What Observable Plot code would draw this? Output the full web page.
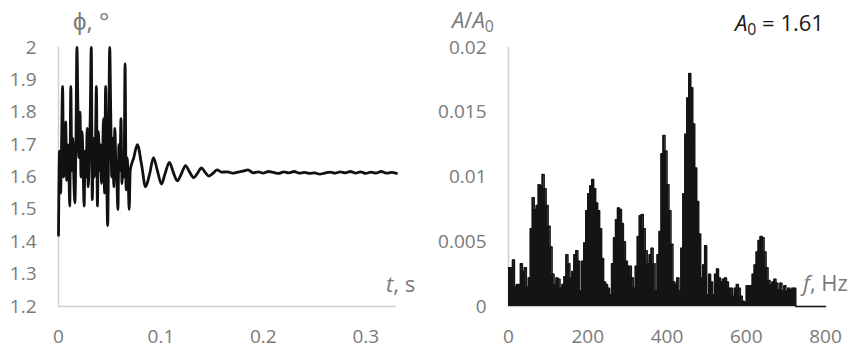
<!DOCTYPE html>
<html>
<head>
<meta charset="utf-8">
<script src="https://cdn.jsdelivr.net/npm/d3@7"></script>
<script src="https://cdn.jsdelivr.net/npm/@observablehq/plot@0.6"></script>
<style>
  body { margin: 0; background: #fff; }
  #wrap { position: relative; width: 856px; height: 348px; display: flex; font-family: "Open Sans", sans-serif; }
  #wrap > div.panel { width: 428px; height: 348px; }
  .lbl { position: absolute; font-size: 22px; line-height: 1; color: #7a7a7a; white-space: nowrap; }
  .lbl sub { font-size: 0.72em; vertical-align: -0.28em; line-height: 0; }
  .dark { color: #1a1a1a; }
</style>
</head>
<body>
<div id="wrap">
  <div class="panel" id="left"></div>
  <div class="panel" id="right"></div>
  <div class="lbl" style="left:73px; top:9px; font-size:24px;">ϕ, °</div>
  <div class="lbl" style="left:386px; top:272px;"><i>t</i>, s</div>
  <div class="lbl" style="left:452px; top:8px;"><i>A</i>/<i>A</i><sub>0</sub></div>
  <div class="lbl dark" style="left:735px; top:11px;"><i>A</i><sub>0</sub> = 1.61</div>
  <div class="lbl" style="left:803px; top:271px;"><i>f</i>, Hz</div>
</div>
<script>
// ---- Phase response φ(t), degrees ----
// Start-up transient, sampled every 1 ms from t = 0
const fastStart = 0, fastStep = 0.001;
const phiFast = [
  1.42, 1.68, 1.55, 1.70, 1.88, 1.60, 1.66, 1.77, 1.59, 1.70,
  1.64, 1.51, 1.88, 1.62, 1.72, 1.59, 1.52, 1.70, 2.00, 1.80,
  1.66, 1.80, 1.60, 1.74, 1.64, 1.51, 1.68, 1.60, 1.75, 1.57,
  1.66, 1.79, 2.00, 1.53, 1.72, 1.60, 1.68, 1.88, 1.51, 1.74,
  1.62, 1.70, 1.58, 1.66, 1.78, 1.55, 1.88, 1.62, 1.45, 1.72,
  2.00, 1.80, 1.60, 1.72, 1.57, 1.75, 1.64, 1.59, 1.50, 1.70,
  1.62, 1.78, 1.58, 1.68, 1.60, 1.95, 1.56, 1.66, 1.60, 1.50
];
// Decaying ringing after the transient
const ringT = [
  0.0700, 0.0735, 0.0770, 0.0810, 0.0850, 0.0890, 0.0927, 0.0965, 0.1005, 0.1040,
  0.1083, 0.1120, 0.1160, 0.1200, 0.1240, 0.1280, 0.1320, 0.1358, 0.1395, 0.1430,
  0.1470, 0.1510, 0.1550, 0.1590
];
const ringPhi = [
  1.62, 1.66, 1.70, 1.64, 1.57, 1.61, 1.66, 1.62, 1.578, 1.61,
  1.645, 1.615, 1.588, 1.61, 1.635, 1.615, 1.598, 1.612, 1.628, 1.615,
  1.603, 1.612, 1.622, 1.615
];
// Steady state, sampled every 5 ms from t = 0.165
const tailStart = 0.165, tailStep = 0.005;
const phiTail = [
  1.616, 1.612, 1.615, 1.618, 1.622, 1.613, 1.616, 1.612, 1.617, 1.614,
  1.611, 1.616, 1.613, 1.617, 1.612, 1.614, 1.611, 1.613, 1.609, 1.612,
  1.615, 1.612, 1.616, 1.613, 1.617, 1.612, 1.616, 1.611, 1.615, 1.612,
  1.617, 1.612, 1.614, 1.611
];
const tTicks = [0, 0.1, 0.2, 0.3];
const phiTicks = [1.2, 1.3, 1.4, 1.5, 1.6, 1.7, 1.8, 1.9, 2];

// ---- Amplitude spectrum A/A0, 5 Hz bins from 0 Hz ----
const binWidth = 5;
const ampRatio = [
  0.0030, 0.0030, 0.0036, 0.0015, 0.0017, 0.0017, 0.0033, 0.0027, 0.0030, 0.0015,
  0.0022, 0.0060, 0.0084, 0.0075, 0.0078, 0.0094, 0.0093, 0.0102, 0.0091, 0.0078,
  0.0062, 0.0046, 0.0025, 0.0017, 0.0022, 0.0021, 0.0014, 0.0017, 0.0023, 0.0040,
  0.0033, 0.0022, 0.0027, 0.0040, 0.0043, 0.0035, 0.0012, 0.0035, 0.0049, 0.0074,
  0.0087, 0.0093, 0.0098, 0.0091, 0.0080, 0.0074, 0.0060, 0.0037, 0.0019, 0.0017,
  0.0014, 0.0009, 0.0033, 0.0053, 0.0067, 0.0076, 0.0075, 0.0064, 0.0050, 0.0035,
  0.0031, 0.0031, 0.0022, 0.0014, 0.0031, 0.0054, 0.0070, 0.0071, 0.0060, 0.0043,
  0.0033, 0.0040, 0.0045, 0.0033, 0.0012, 0.0040, 0.0058, 0.0118, 0.0132, 0.0120,
  0.0094, 0.0074, 0.0048, 0.0019, 0.0017, 0.0022, 0.0012, 0.0045, 0.0087, 0.0133,
  0.0161, 0.0180, 0.0169, 0.0141, 0.0107, 0.0081, 0.0056, 0.0022, 0.0032, 0.0047,
  0.0009, 0.0025, 0.0019, 0.0009, 0.0025, 0.0029, 0.0022, 0.0019, 0.0021, 0.0022,
  0.0019, 0.0014, 0.0014, 0.0008, 0.0014, 0.0017, 0.0014, 0.0008, 0.0004, 0.0003,
  0.0016, 0.0016, 0.0016, 0.0025, 0.0032, 0.0042, 0.0051, 0.0054, 0.0053, 0.0042,
  0.0030, 0.0020, 0.0017, 0.0019, 0.0021, 0.0018, 0.0013, 0.0018, 0.0012, 0.0016,
  0.0012, 0.0014, 0.0013, 0.0014, 0.0014, 0
];
const fMax = 800;
const fTicks = [0, 200, 400, 600, 800];
const ampTicks = [0, 0.005, 0.01, 0.015, 0.02];

// ---- assemble tables ----
const phiSeries = [
  ...phiFast.map((v, i) => ({t: fastStart + i * fastStep, phi: v})),
  ...ringT.map((t, i) => ({t, phi: ringPhi[i]})),
  ...phiTail.map((v, i) => ({t: tailStart + i * tailStep, phi: v}))
];
const spectrum = ampRatio.map((a, i) => ({f: i * binWidth, a}));
spectrum.push({f: fMax, a: 0});

const axisGrey = "#d0d0d0";
const fmt = d3.format("~g");
const baseStyle = {fontFamily: "Open Sans, sans-serif", fontSize: "19px", color: "#7a7a7a", background: "transparent", overflow: "visible"};

const left = Plot.plot({
  width: 428, height: 348,
  marginLeft: 58, marginRight: 32, marginTop: 47, marginBottom: 42,
  style: baseStyle,
  x: {domain: [0, 0.33], ticks: tTicks, tickSize: 0, tickPadding: 23, tickFormat: fmt, label: null},
  y: {domain: [1.2, 2], ticks: phiTicks, tickSize: 0, tickPadding: 22, tickFormat: fmt, label: null},
  marks: [
    Plot.ruleY([1.2], {stroke: axisGrey, strokeWidth: 1.5}),
    Plot.ruleX([0], {stroke: axisGrey, strokeWidth: 1.5}),
    Plot.line(phiSeries, {x: "t", y: "phi", stroke: "#111", strokeWidth: 2.8, curve: "monotone-x"})
  ]
});

const right = Plot.plot({
  width: 428, height: 348,
  marginLeft: 80, marginRight: 31, marginTop: 47, marginBottom: 42,
  style: baseStyle,
  x: {domain: [0, fMax], ticks: fTicks, tickSize: 0, tickPadding: 23, tickFormat: fmt, label: null},
  y: {domain: [0, 0.02], ticks: ampTicks, tickSize: 0, tickPadding: 22, tickFormat: fmt, label: null},
  marks: [
    Plot.ruleY([0], {stroke: axisGrey, strokeWidth: 1.5}),
    Plot.ruleX([0], {stroke: axisGrey, strokeWidth: 1.5}),
    Plot.areaY(spectrum, {x: "f", y: "a", curve: "step-after", fill: "#141414"}),
    Plot.lineY(spectrum, {x: "f", y: "a", curve: "step-after", stroke: "#141414", strokeWidth: 1.5})
  ]
});

document.getElementById("left").append(left);
document.getElementById("right").append(right);
</script>
</body>
</html>
